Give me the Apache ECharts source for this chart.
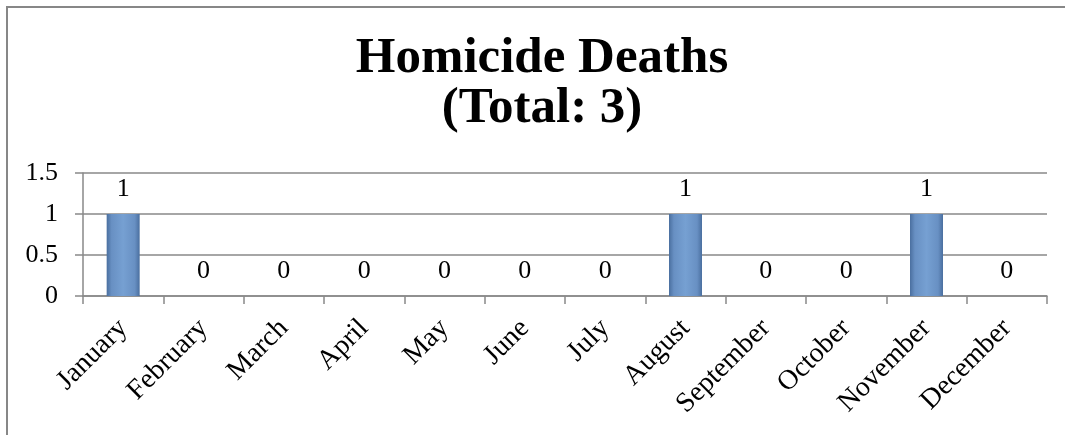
<!DOCTYPE html>
<html>
<head>
<meta charset="utf-8">
<script src="https://cdn.jsdelivr.net/npm/echarts@6/dist/echarts.min.js"></script>
<style>
  html, body { margin: 0; padding: 0; background: #fff; }
  #chart { width: 1065px; height: 435px; }
</style>
</head>
<body>
<div id="chart"></div>
<script>
const titleText = "Homicide Deaths\n(Total: 3)";
const months = ["January", "February", "March", "April", "May", "June",
  "July", "August", "September", "October", "November", "December"];
const deaths = [1, 0, 0, 0, 0, 0, 0, 1, 0, 0, 1, 0];
const yTicks = [0, 0.5, 1, 1.5];

const chart = echarts.init(document.getElementById("chart"));
const serif = "Liberation Serif, Times New Roman, serif";

const option = {
  animation: false,
  graphic: [
    {
      type: "rect",
      shape: { x: 7, y: 7, width: 1100, height: 500 },
      style: { fill: "none", stroke: "#878787", lineWidth: 2 }
    }
  ],
  title: {
    text: titleText,
    left: 537,
    top: 29,
    textAlign: "center",
    textStyle: {
      fontFamily: serif,
      fontWeight: "bold",
      fontSize: 51,
      lineHeight: 50,
      color: "#000"
    }
  },
  grid: {
    left: 83,
    right: 18,
    top: 173,
    bottom: 139
  },
  xAxis: {
    type: "category",
    data: months,
    axisLine: { lineStyle: { color: "#898989", width: 1.5 } },
    axisTick: { show: true, length: 8, lineStyle: { color: "#898989", width: 1.5 } },
    axisLabel: {
      rotate: 45,
      margin: 28,
      fontFamily: serif,
      fontSize: 28,
      color: "#000"
    }
  },
  yAxis: {
    type: "value",
    min: yTicks[0],
    max: yTicks[yTicks.length - 1],
    interval: 0.5,
    axisLine: { show: true, lineStyle: { color: "#898989", width: 1.5 } },
    axisTick: { show: true, length: 8, lineStyle: { color: "#898989", width: 1.5 } },
    splitLine: { lineStyle: { color: "#898989", width: 1.5 } },
    axisLabel: {
      margin: 25,
      fontFamily: serif,
      fontSize: 26,
      color: "#000"
    }
  },
  series: [
    {
      type: "bar",
      data: deaths,
      barWidth: 33,
      itemStyle: {
        color: new echarts.graphic.LinearGradient(0, 0, 1, 0, [
          { offset: 0, color: "#4a6f9f" },
          { offset: 0.15, color: "#6890c3" },
          { offset: 0.5, color: "#76a0d2" },
          { offset: 0.85, color: "#6890c3" },
          { offset: 1, color: "#4a6f9f" }
        ])
      },
      label: {
        show: true,
        position: "top",
        distance: 12,
        fontFamily: serif,
        fontSize: 26,
        color: "#000"
      }
    }
  ]
};

chart.setOption(option);
</script>
</body>
</html>
